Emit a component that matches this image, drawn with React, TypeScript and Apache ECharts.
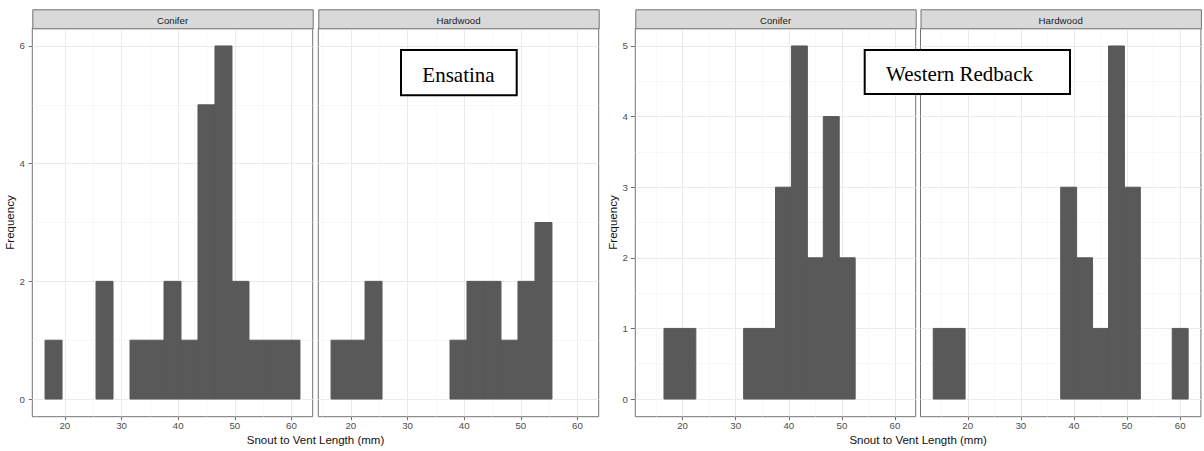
import React, { useEffect, useRef } from "react";
import * as echarts from "echarts";

// ---------- data ----------
const facetNames = ["Conifer", "Hardwood"];
const xAxisTitle = "Snout to Vent Length (mm)";
const yAxisTitle = "Frequency";
const chartTitles = ["Ensatina", "Western Redback"];

const binWidth = 3;

// Ensatina (left chart)
const ensatinaBinStarts = [16.5, 19.5, 22.5, 25.5, 28.5, 31.5, 34.5, 37.5, 40.5, 43.5, 46.5, 49.5, 52.5, 55.5, 58.5];
const ensatinaConifer = [1, 0, 0, 2, 0, 1, 1, 2, 1, 5, 6, 2, 1, 1, 1];
const ensatinaHardwood = [1, 1, 2, 0, 0, 0, 0, 1, 2, 2, 1, 2, 3, 0, 0];

// Western Redback (right chart)
const redbackBinStarts = [13.5, 16.5, 19.5, 22.5, 25.5, 28.5, 31.5, 34.5, 37.5, 40.5, 43.5, 46.5, 49.5, 52.5, 55.5, 58.5];
const redbackConifer = [0, 1, 1, 0, 0, 0, 1, 1, 3, 5, 2, 4, 2, 0, 0, 0];
const redbackHardwood = [1, 1, 0, 0, 0, 0, 0, 0, 3, 2, 1, 5, 3, 0, 0, 1];

// axis ticks
const xMajorTicks = [20, 30, 40, 50, 60];
const xMinorTicks = [15, 25, 35, 45, 55];
const ensatinaYMajor = [0, 2, 4, 6];
const ensatinaYMinor = [1, 3, 5];
const redbackYMajor = [0, 1, 2, 3, 4, 5];
const redbackYMinor = [0.5, 1.5, 2.5, 3.5, 4.5];

// ---------- layout ----------
const SANS = "'Liberation Sans', Arial, sans-serif";
const SERIF = "'Liberation Serif', 'Times New Roman', serif";
const panelLefts = [32.3, 318.3, 635.3, 920.5];
const panelWidth = 280.4;
const panelTop = 28.3;
const panelBottom = 416.7;
const stripTop = 9.3;

function expand(lo: number, hi: number, frac: number) {
  const w = hi - lo;
  return [lo - w * frac, hi + w * frac];
}

function binsToData(starts: number[], counts: number[]) {
  return starts.map((s, i) => [s, s + binWidth, counts[i]]);
}

export default function App() {
  const ref = useRef<HTMLDivElement>(null);

  useEffect(() => {
    if (!ref.current) return;
    const chart = echarts.init(ref.current, null, { renderer: "svg" });

    const ensX = expand(ensatinaBinStarts[0], ensatinaBinStarts[ensatinaBinStarts.length - 1] + binWidth, 0.05);
    const redX = expand(redbackBinStarts[0], redbackBinStarts[redbackBinStarts.length - 1] + binWidth, 0.05);
    const ensY = expand(0, Math.max(...ensatinaConifer, ...ensatinaHardwood), 0.05);
    const redY = expand(0, Math.max(...redbackConifer, ...redbackHardwood), 0.05);

    const panels = [
      { x: ensX, y: ensY, yMajor: ensatinaYMajor, yMinor: ensatinaYMinor, data: binsToData(ensatinaBinStarts, ensatinaConifer), showY: true, tickLen: 3.5 },
      { x: ensX, y: ensY, yMajor: ensatinaYMajor, yMinor: ensatinaYMinor, data: binsToData(ensatinaBinStarts, ensatinaHardwood), showY: false, tickLen: 3.5 },
      { x: redX, y: redY, yMajor: redbackYMajor, yMinor: redbackYMinor, data: binsToData(redbackBinStarts, redbackConifer), showY: true, tickLen: 4.5 },
      { x: redX, y: redY, yMajor: redbackYMajor, yMinor: redbackYMinor, data: binsToData(redbackBinStarts, redbackHardwood), showY: false, tickLen: 4.5 },
    ];

    const grids: any[] = [];
    const xAxes: any[] = [];
    const yAxes: any[] = [];
    const series: any[] = [];
    const graphics: any[] = [];

    const borderColor = "#737373";
    const barColor = "#595959";

    panels.forEach((p, i) => {
      grids.push({
        left: panelLefts[i],
        top: panelTop,
        width: panelWidth,
        height: panelBottom - panelTop,
        show: true,
        borderColor: borderColor,
        borderWidth: 1,
        backgroundColor: "#ffffff",
      });
      // major x
      xAxes.push({
        type: "value",
        gridIndex: i,
        position: "bottom",
        min: p.x[0],
        max: p.x[1],
        axisLine: { show: false, onZero: false },
        axisTick: { show: true, length: 3.5, customValues: xMajorTicks, lineStyle: { color: "#6f6f6f", width: 1 } },
        axisLabel: { show: true, customValues: xMajorTicks, margin: 4, fontSize: 9.7, color: "#4D4D4D", fontFamily: SANS },
        splitLine: { show: true, lineStyle: { color: "#EBEBEB", width: 1 } },
      });
      // minor x
      xAxes.push({
        type: "value",
        gridIndex: i,
        position: "bottom",
        min: p.x[0],
        max: p.x[1],
        axisLine: { show: false, onZero: false },
        axisTick: { show: false, customValues: xMinorTicks },
        axisLabel: { show: false, customValues: xMinorTicks },
        splitLine: { show: true, lineStyle: { color: "#F3F3F3", width: 0.6 } },
      });
      // major y
      yAxes.push({
        type: "value",
        gridIndex: i,
        position: "left",
        min: p.y[0],
        max: p.y[1],
        name: p.showY ? yAxisTitle : "",
        nameLocation: "middle",
        nameRotate: 90,
        nameGap: 11,
        nameTextStyle: { fontSize: 11.5, color: "#111", fontFamily: SANS },
        axisLine: { show: false, onZero: false },
        axisTick: { show: p.showY, length: p.tickLen, customValues: p.yMajor, lineStyle: { color: "#6f6f6f", width: 1 } },
        axisLabel: { show: p.showY, customValues: p.yMajor, margin: 7.5, fontSize: 9.7, color: "#4D4D4D", fontFamily: SANS },
        splitLine: { show: true, lineStyle: { color: "#EBEBEB", width: 1 } },
      });
      // minor y
      yAxes.push({
        type: "value",
        gridIndex: i,
        position: "left",
        min: p.y[0],
        max: p.y[1],
        axisLine: { show: false, onZero: false },
        axisTick: { show: false, customValues: p.yMinor },
        axisLabel: { show: false, customValues: p.yMinor },
        splitLine: { show: true, lineStyle: { color: "#F3F3F3", width: 0.6 } },
      });

      series.push({
        type: "custom",
        xAxisIndex: i * 2,
        yAxisIndex: i * 2,
        encode: { x: [0, 1], y: 2 },
        data: p.data,
        renderItem: (_params: any, api: any) => {
          const x0 = api.value(0);
          const x1 = api.value(1);
          const n = api.value(2);
          if (!n) return null;
          const a = api.coord([x0, 0]);
          const b = api.coord([x1, n]);
          return {
            type: "rect",
            shape: { x: a[0], y: b[1], width: b[0] - a[0], height: a[1] - b[1] },
            style: { fill: barColor, stroke: barColor, lineWidth: 1 },
          };
        },
      });

      // strip
      graphics.push({
        type: "rect",
        left: panelLefts[i],
        top: stripTop,
        shape: { width: panelWidth, height: panelTop - stripTop },
        style: { fill: "#D9D9D9", stroke: borderColor, lineWidth: 1 },
        z: 10,
      });
      graphics.push({
        type: "text",
        x: panelLefts[i] + panelWidth / 2,
        y: 20.2,
        style: {
          text: facetNames[i % 2],
          fontSize: 9.7,
          fontFamily: SANS,
          fill: "#1A1A1A",
          textAlign: "center",
          textVerticalAlign: "middle",
        },
        z: 11,
      });
    });

    // x axis titles
    [0, 2].forEach((i) => {
      const center = (panelLefts[i] + panelLefts[i + 1] + panelWidth) / 2;
      graphics.push({
        type: "text",
        x: center,
        y: 440,
        style: {
          text: xAxisTitle,
          fontSize: 11.5,
          fontFamily: SANS,
          fill: "#111",
          textAlign: "center",
          textVerticalAlign: "middle",
        },
        z: 11,
      });
    });

    // annotation boxes
    graphics.push({
      type: "rect",
      shape: { x: 401, y: 50, width: 115.7, height: 45.3 },
      style: { fill: "#ffffff", stroke: "#000000", lineWidth: 2 },
      z: 20,
    });
    graphics.push({
      type: "text",
      x: 458.5,
      y: 74.6,
      style: { text: chartTitles[0], fontSize: 21, fontFamily: SERIF, fill: "#000", textAlign: "center", textVerticalAlign: "middle" },
      z: 21,
    });
    graphics.push({
      type: "rect",
      shape: { x: 864.7, y: 50, width: 205.3, height: 44 },
      style: { fill: "#ffffff", stroke: "#000000", lineWidth: 2 },
      z: 20,
    });
    graphics.push({
      type: "text",
      x: 886,
      y: 73.6,
      style: { text: chartTitles[1], fontSize: 21, fontFamily: SERIF, fill: "#000", textAlign: "left", textVerticalAlign: "middle" },
      z: 21,
    });

    chart.setOption({
      animation: false,
      backgroundColor: "#ffffff",
      grid: grids,
      xAxis: xAxes,
      yAxis: yAxes,
      series: series,
      graphic: graphics,
    });

    return () => {
      chart.dispose();
    };
  }, []);

  return (
    <div
      ref={ref}
      style={{ position: "fixed", left: 0, top: 0, width: "1204px", height: "451px", background: "#fff" }}
    />
  );
}
